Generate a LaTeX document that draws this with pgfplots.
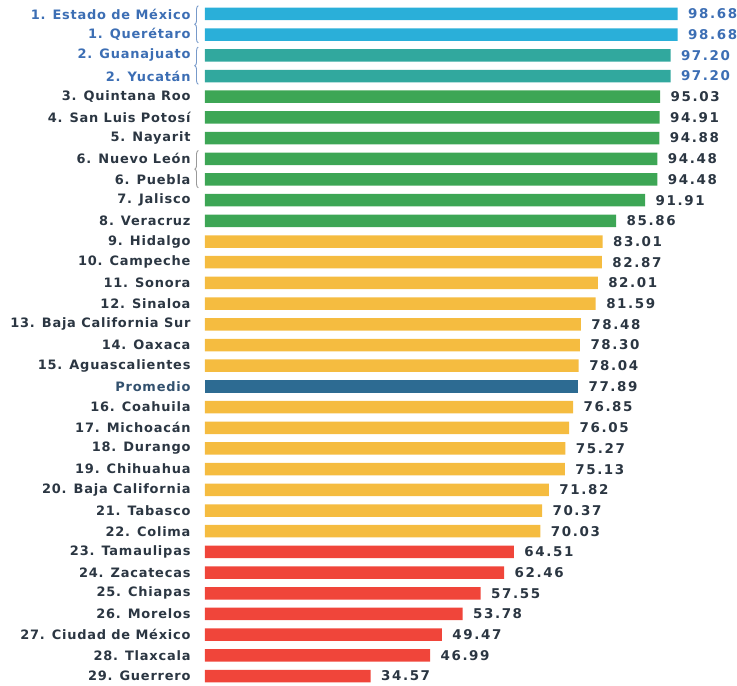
\documentclass[border=0pt]{standalone}
\usepackage{pgfplots}
\pgfplotsset{compat=1.18}
\usepackage{fontspec}
\setmainfont{DejaVu Sans}[LetterSpace=12]
\newfontfamily\labfont{DejaVu Sans}[LetterSpace=6]
\usetikzlibrary{decorations.pathreplacing}

\definecolor{cCyan}{HTML}{2AAFD9}
\definecolor{cTeal}{HTML}{31A89E}
\definecolor{cGreen}{HTML}{3DA655}
\definecolor{cYellow}{HTML}{F5BC40}
\definecolor{cProm}{HTML}{2D6B92}
\definecolor{cRed}{HTML}{F0453A}
\definecolor{tBlue}{HTML}{3C6EB4}
\definecolor{tDark}{HTML}{2B3642}
\definecolor{tProm}{HTML}{33516E}

\newcommand{\bl}[1]{\textcolor{tBlue}{#1}}

\begin{document}
\begin{tikzpicture}
\begin{axis}[
    name=ax,
    scale only axis,
    width=526.8bp, height=682.8bp,
    xmin=0, xmax=110,
    ymin=-0.5, ymax=32.5,
    y dir=reverse,
    axis line style={draw=none},
    major tick length=0pt,
    xtick=\empty,
    xbar, bar shift=0pt, bar width=12.5bp,
    clip=false,
    ytick={0,...,32},
    yticklabels={
        \bl{1. Estado de México},\bl{1. Querétaro},\bl{2. Guanajuato},\bl{2. Yucatán},
        3. Quintana Roo,4. San Luis Potosí,5. Nayarit,6. Nuevo León,6. Puebla,
        7. Jalisco,8. Veracruz,9. Hidalgo,10. Campeche,11. Sonora,12. Sinaloa,
        13. Baja California Sur,14. Oaxaca,15. Aguascalientes,\textcolor{tProm}{Promedio},
        16. Coahuila,17. Michoacán,18. Durango,19. Chihuahua,20. Baja California,
        21. Tabasco,22. Colima,23. Tamaulipas,24. Zacatecas,25. Chiapas,
        26. Morelos,27. Ciudad de México,28. Tlaxcala,29. Guerrero},
    yticklabel style={font=\labfont\bfseries\fontsize{13}{15}\selectfont, text=tDark, anchor=east, xshift=-11bp},
    nodes near coords={\pgfmathprintnumber[fixed,fixed zerofill,precision=2,assume math mode=true]{\pgfplotspointmeta}},
    point meta=x,
    nodes near coords style={font=\bfseries\fontsize{13.5}{15}\selectfont, text=tDark, anchor=west, xshift=7bp},
]
\addplot[fill=cCyan, draw=none, nodes near coords style={text=tBlue}] coordinates {(98.68,0) (98.68,1)};
\addplot[fill=cTeal, draw=none, nodes near coords style={text=tBlue}] coordinates {(97.20,2) (97.20,3)};
\addplot[fill=cGreen, draw=none] coordinates {
    (95.03,4) (94.91,5) (94.88,6) (94.48,7) (94.48,8) (91.91,9) (85.86,10)};
\addplot[fill=cYellow, draw=none] coordinates {
    (83.01,11) (82.87,12) (82.01,13) (81.59,14) (78.48,15) (78.30,16) (78.04,17)
    (76.85,19) (76.05,20) (75.27,21) (75.13,22) (71.82,23) (70.37,24) (70.03,25)};
\addplot[fill=cProm, draw=none] coordinates {(77.89,18)};
\addplot[fill=cRed, draw=none] coordinates {
    (64.51,26) (62.46,27) (57.55,28) (53.78,29) (49.47,30) (46.99,31) (34.57,32)};

% llaves de empate
\draw[tBlue!70, line width=0.9pt, decorate, decoration={brace, amplitude=3.5bp}]
    (axis cs:-1.4,1.4) -- (axis cs:-1.4,-0.4);
\draw[tBlue!70, line width=0.9pt, decorate, decoration={brace, amplitude=3.5bp}]
    (axis cs:-1.4,3.4) -- (axis cs:-1.4,1.6);
\draw[gray!80, line width=0.9pt, decorate, decoration={brace, amplitude=3.5bp}]
    (axis cs:-1.4,8.4) -- (axis cs:-1.4,6.6);
\end{axis}
\pgfresetboundingbox
\path ([xshift=-205bp,yshift=3.6bp]ax.north west) rectangle ++(737bp,-686bp);
\end{tikzpicture}
\end{document}
